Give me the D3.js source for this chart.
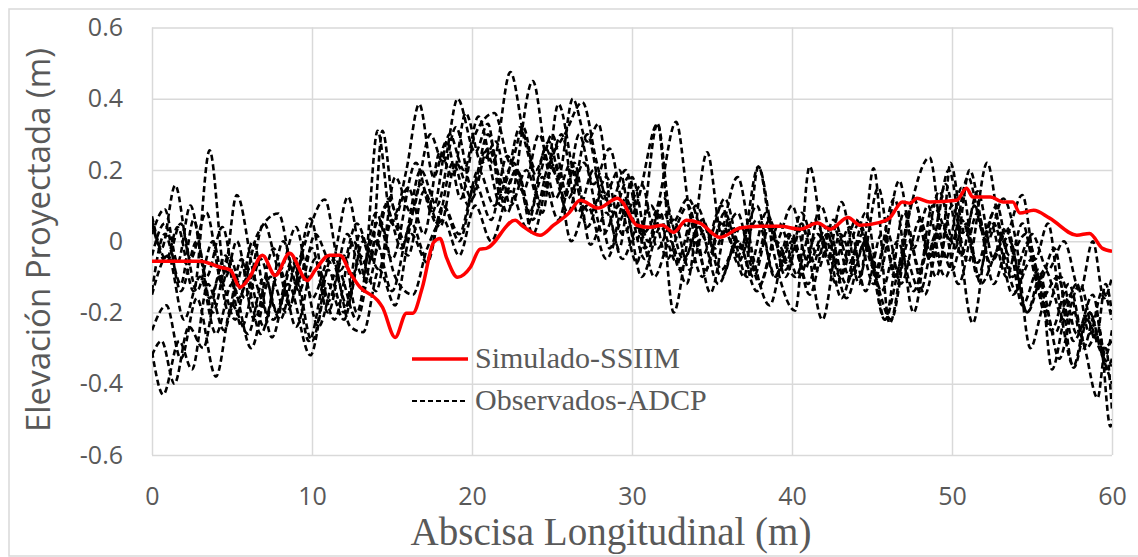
<!DOCTYPE html>
<html>
<head>
<meta charset="utf-8">
<script src="https://cdn.jsdelivr.net/npm/d3@7"></script>
<style>
  html, body { margin: 0; padding: 0; background: #fff; }
  svg { display: block; }
</style>
</head>
<body>
<svg id="chart" width="1138" height="557"></svg>
<script>
// Axis ticks
const xTicks = [0, 10, 20, 30, 40, 50, 60];
const yTicks = [-0.6, -0.4, -0.2, 0, 0.2, 0.4, 0.6];

// Simulated longitudinal water-surface elevation (SSIIM), [abscissa m, elevation m]
const simulado = [
  [0,-0.056],[3.0,-0.056],[4.25,-0.073],[4.9,-0.081],[5.5,-0.129],[6.1,-0.101],[6.9,-0.039],
  [7.7,-0.096],[8.6,-0.034],[9.7,-0.110],[10.2,-0.081],[11.1,-0.039],[11.75,-0.039],[12.4,-0.090],
  [13.0,-0.129],[14.1,-0.166],[14.4,-0.185],[15.2,-0.270],[15.9,-0.202],[16.3,-0.202],[16.9,-0.129],
  [17.6,-0.003],[18.0,0.008],[18.4,-0.045],[19.1,-0.101],[19.9,-0.073],[20.5,-0.022],[20.9,-0.020],
  [22.7,0.059],[23.1,0.045],[24.25,0.017],[25.1,0.045],[26.1,0.081],[26.75,0.115],[27.9,0.093],
  [29.1,0.121],[29.4,0.110],[30.3,0.045],[31.1,0.039],[31.9,0.045],[32.6,0.025],[33.4,0.059],
  [34.25,0.051],[35.5,0.011],[36.75,0.037],[38.0,0.042],[39.25,0.042],[40.5,0.034],[41.6,0.051],
  [42.4,0.034],[43.5,0.067],[44.25,0.045],[45.5,0.053],[46.1,0.065],[46.9,0.110],[47.4,0.107],
  [47.8,0.121],[48.6,0.110],[50.3,0.115],[50.9,0.149],[51.3,0.124],[52.4,0.124],[53.2,0.110],
  [53.8,0.110],[54.25,0.079],[55.1,0.087],[56.1,0.065],[57.8,0.017],[58.6,0.022],[59.4,-0.020],[60,-0.028]
];

// Observed ADCP transects, [abscissa m, elevation m]
const obs1 = [[0,0.07],[0.9,-0.05],[1.6,0.04],[2.6,-0.14],[3.6,0.255],[4.6,-0.1],[5.3,0.0],[6.4,-0.22],[7.6,-0.02],[8.6,-0.18],[9.9,0.064],[11.0,-0.17],[12.0,-0.04],[12.8,-0.2],[14.0,0.08],[15.0,-0.05],[16.5,0.22],[17.5,0.08],[18.6,0.3],[19.5,0.2],[20.4,0.35],[21.3,0.22],[22.4,0.475],[23.3,0.28],[24.1,0.18],[25.0,0.3],[26.0,0.12],[27.0,0.22],[28.2,0.02],[29.2,0.1],[30.3,-0.06],[31.6,0.33],[32.4,0.02],[33.5,0.1],[34.6,-0.08],[35.8,0.08],[37.0,-0.1],[37.9,0.21],[38.8,-0.02],[40.2,-0.195],[41.1,0.21],[42.2,-0.05],[43.1,0.11],[44.2,-0.12],[45.1,0.205],[46.1,-0.23],[47.2,0.05],[48.6,0.235],[49.6,-0.05],[50.6,0.15],[51.6,-0.1],[52.6,0.05],[53.8,-0.15],[55.0,-0.05],[56.2,-0.25],[57.3,-0.12],[58.4,-0.3],[59.2,-0.25],[59.9,-0.52],[60,-0.5]];
const obs2 = [[0,-0.31],[0.7,-0.43],[1.7,-0.28],[2.5,-0.36],[3.5,-0.12],[4.5,-0.25],[5.6,-0.05],[6.8,-0.26],[8.0,-0.08],[9.0,-0.24],[10.2,-0.05],[11.4,-0.22],[12.6,0.0],[13.5,-0.12],[14.6,0.1],[15.6,-0.02],[16.8,0.2],[17.8,0.1],[19.0,0.32],[20.0,0.15],[21.0,0.3],[22.2,0.08],[23.8,0.45],[24.8,0.22],[25.6,0.3],[26.6,0.08],[27.6,0.2],[28.6,-0.02],[29.6,0.12],[30.8,-0.05],[31.8,0.08],[32.6,-0.2],[33.8,0.05],[34.9,-0.145],[36.0,0.05],[37.2,-0.1],[38.4,0.08],[39.6,-0.08],[40.6,0.05],[41.9,-0.22],[43.0,0.02],[44.2,-0.1],[45.4,0.15],[46.4,-0.1],[47.6,0.12],[48.6,-0.05],[49.8,0.2],[51.3,-0.23],[52.4,0.05],[53.4,-0.1],[54.4,0.05],[55.4,-0.12],[56.4,-0.02],[57.6,-0.355],[58.6,-0.2],[59.4,-0.3],[60,-0.28]];
const obs3 = [[0,0.05],[0.6,-0.02],[1.45,0.157],[2.4,-0.05],[3.4,0.08],[4.4,-0.12],[5.3,0.13],[6.4,-0.1],[7.6,-0.22],[8.8,-0.05],[10.0,-0.28],[11.2,-0.05],[12.2,-0.18],[13.2,0.0],[14.2,-0.08],[15.2,0.18],[16.2,0.08],[17.4,0.3],[18.2,0.22],[19.1,0.40],[20.2,0.25],[21.0,0.33],[21.8,0.12],[22.8,0.2],[23.8,0.02],[25.0,0.2],[26.0,0.08],[27.2,0.3],[28.2,0.12],[29.2,0.2],[30.2,0.0],[31.2,0.1],[32.2,-0.05],[33.2,0.05],[34.4,-0.1],[35.6,0.05],[36.6,-0.04],[37.8,0.1],[38.9,-0.1],[40.0,0.02],[41.1,-0.15],[42.2,0.02],[43.4,-0.16],[44.6,0.0],[45.8,-0.22],[47.0,0.08],[48.0,-0.08],[49.2,0.14],[50.2,-0.02],[51.1,0.2],[52.2,0.0],[53.2,0.12],[54.0,0.0],[54.9,-0.3],[55.8,-0.18],[56.7,-0.33],[57.6,-0.2],[58.3,-0.3],[59.1,-0.44],[59.6,-0.3],[60,-0.475]];
const obs4 = [[0,-0.14],[0.8,0.02],[1.8,-0.12],[2.6,0.06],[3.6,-0.16],[4.6,-0.04],[5.6,-0.24],[6.8,-0.05],[7.8,-0.2],[8.8,-0.06],[9.8,-0.28],[11.0,-0.08],[12.0,-0.2],[13.0,0.02],[13.7,-0.05],[14.4,0.31],[15.2,0.08],[15.9,0.2],[16.7,0.385],[17.6,0.18],[18.4,0.28],[19.3,0.12],[20.2,0.3],[21.4,0.36],[22.4,0.22],[23.2,0.32],[24.2,0.12],[25.2,0.22],[26.2,0.0],[27.2,0.1],[28.4,-0.05],[29.6,0.08],[30.6,-0.1],[31.8,0.04],[32.8,-0.06],[34.0,0.1],[35.2,-0.02],[36.6,0.18],[37.6,-0.05],[38.6,-0.18],[39.8,0.02],[40.8,-0.08],[41.8,0.1],[43.0,-0.1],[44.2,0.05],[45.2,-0.1],[46.2,-0.22],[47.3,0.0],[48.3,-0.15],[49.4,0.05],[50.4,-0.12],[51.6,0.08],[52.6,-0.12],[53.6,0.0],[54.7,-0.2],[55.8,-0.08],[57.0,-0.22],[58.0,-0.12],[59.0,-0.28],[59.6,-0.12],[60,-0.2]];
const obs5 = [[0,-0.25],[0.9,-0.18],[1.8,-0.33],[2.8,-0.16],[4.0,-0.38],[5.0,-0.18],[6.0,-0.26],[7.0,-0.1],[8.0,-0.22],[9.2,-0.04],[10.4,-0.24],[11.6,-0.08],[12.8,-0.22],[14.0,0.0],[15.0,-0.14],[16.2,0.05],[17.2,-0.05],[18.2,0.1],[19.2,0.0],[20.4,0.2],[21.4,0.1],[22.6,0.22],[23.6,0.08],[24.6,0.26],[25.4,0.18],[26.3,0.40],[27.2,0.28],[27.9,0.33],[28.8,0.08],[29.8,0.18],[30.8,-0.02],[32.0,0.12],[33.2,-0.05],[34.4,0.06],[35.6,-0.1],[36.8,0.04],[38.0,-0.12],[39.2,0.05],[40.4,-0.1],[41.6,0.02],[42.8,-0.12],[44.0,0.06],[45.2,-0.08],[46.4,0.12],[47.6,-0.2],[48.8,0.1],[50.0,0.0],[51.0,0.18],[52.0,0.02],[52.8,0.1],[53.8,-0.1],[54.8,0.0],[55.8,-0.2],[56.8,-0.1],[57.8,-0.26],[58.8,-0.15],[59.6,-0.32],[60,-0.25]];
const obs6 = [[0,0.02],[0.8,0.09],[1.6,-0.06],[2.4,0.1],[3.4,-0.1],[4.4,0.04],[5.4,-0.16],[6.6,0.02],[7.9,0.078],[9.0,-0.12],[10.0,-0.02],[11.0,-0.2],[12.2,0.02],[13.2,-0.1],[14.1,0.31],[15.0,0.05],[16.0,0.15],[17.0,0.02],[18.0,0.25],[18.8,0.18],[19.6,0.36],[20.6,0.22],[21.5,0.28],[22.4,0.1],[23.4,0.2],[24.4,0.08],[25.4,0.385],[26.4,0.18],[27.4,0.08],[28.4,0.18],[29.4,0.02],[30.4,0.12],[31.6,0.33],[32.5,0.05],[33.5,0.12],[34.7,0.0],[35.8,0.12],[36.8,-0.02],[37.9,0.21],[39.0,0.0],[40.0,0.1],[41.0,-0.06],[42.2,0.04],[43.4,-0.12],[44.4,0.02],[45.4,-0.1],[46.7,0.17],[47.6,-0.02],[48.5,0.1],[49.3,-0.05],[49.9,0.22],[50.8,0.02],[51.6,0.14],[52.6,-0.05],[53.4,0.03],[54.4,-0.18],[55.4,-0.08],[56.4,-0.26],[57.4,-0.15],[58.2,-0.3],[59.0,-0.2],[59.6,-0.36],[60,-0.33]];
const obs7 = [[0,-0.15],[1.0,-0.04],[2.0,-0.22],[3.0,-0.1],[4.0,-0.26],[5.0,-0.12],[6.2,-0.3],[7.4,-0.1],[8.4,-0.2],[9.6,0.0],[10.8,0.117],[11.8,-0.08],[12.8,0.05],[13.8,-0.05],[14.8,0.12],[15.8,0.0],[16.8,0.16],[17.8,0.05],[18.8,0.22],[19.8,0.1],[20.8,0.25],[21.8,0.1],[22.8,0.2],[23.8,0.06],[24.8,0.22],[25.8,0.3],[26.9,0.39],[27.8,0.22],[28.6,0.1],[29.6,0.2],[30.6,0.02],[31.6,0.1],[32.75,0.335],[33.6,0.08],[34.4,-0.04],[35.6,0.1],[36.6,-0.06],[37.8,0.06],[39.0,-0.1],[40.0,0.0],[41.0,-0.12],[42.0,0.02],[43.1,-0.16],[44.2,0.0],[45.1,-0.12],[46.0,0.02],[46.8,-0.12],[48.0,0.06],[49.0,-0.1],[50.0,0.1],[51.0,-0.06],[52.2,0.22],[53.2,0.0],[54.4,0.13],[55.2,-0.05],[56.0,0.05],[56.8,-0.2],[57.6,-0.35],[58.4,-0.22],[59.2,-0.3],[60,-0.4]];
const obs8 = [[0,0.06],[0.9,-0.06],[1.8,0.05],[2.8,-0.14],[3.8,0.0],[4.8,-0.2],[5.8,-0.06],[7.0,-0.24],[8.2,0.0],[9.2,-0.14],[10.2,0.02],[11.2,-0.06],[12.25,0.125],[13.2,-0.06],[14.2,0.06],[15.2,-0.1],[16.3,-0.15],[17.2,-0.02],[18.2,0.06],[19.2,-0.04],[20.2,0.1],[21.2,0.0],[22.4,0.14],[23.4,0.04],[24.4,0.18],[25.4,0.06],[26.4,0.22],[27.4,-0.01],[28.4,0.08],[29.4,-0.05],[30.4,0.04],[31.4,-0.1],[32.4,0.0],[33.4,-0.12],[34.7,0.25],[35.6,0.02],[36.6,0.08],[37.6,-0.08],[38.6,0.06],[39.6,-0.1],[40.6,0.04],[41.6,-0.08],[42.6,0.06],[43.6,-0.06],[44.6,0.08],[45.8,-0.22],[47.0,-0.04],[48.0,-0.14],[49.0,0.02],[50.0,-0.08],[50.9,0.05],[51.8,-0.12],[53.0,-0.02],[54.0,-0.14],[55.0,0.02],[56.0,-0.08],[57.0,0.0],[58.0,-0.14],[58.8,0.0],[59.5,-0.16],[60,-0.1]];
const obs9 = [[0,-0.04],[0.8,0.05],[1.8,-0.14],[2.8,0.0],[3.8,-0.2],[4.8,-0.04],[5.8,-0.16],[7.0,0.05],[8.0,-0.08],[9.0,0.04],[10.0,-0.16],[11.2,-0.04],[12.4,-0.24],[13.2,-0.255],[14.2,-0.08],[15.2,-0.18],[16.2,0.02],[17.2,-0.06],[18.2,0.1],[19.2,0.02],[20.2,0.16],[21.2,0.06],[22.2,0.24],[23.2,0.14],[24.2,0.3],[25.2,0.12],[26.2,0.22],[27.2,0.04],[28.2,0.14],[29.2,-0.02],[30.0,0.18],[31.0,0.0],[32.0,0.08],[33.0,-0.08],[34.2,0.04],[35.4,-0.12],[36.6,0.0],[37.8,-0.14],[39.0,0.0],[40.2,-0.1],[41.4,0.06],[42.6,-0.06],[43.6,0.04],[44.6,-0.14],[45.6,0.02],[46.6,-0.1],[47.6,0.12],[48.6,-0.04],[49.6,0.16],[50.6,-0.04],[51.4,0.1],[52.4,-0.06],[53.4,0.04],[54.7,-0.2],[55.5,-0.1],[56.25,-0.36],[57.0,-0.22],[57.8,-0.12],[58.6,-0.26],[59.4,-0.14],[60,-0.22]];
const obs10 = [[0,-0.32],[0.6,-0.28],[1.4,-0.4],[2.3,-0.24],[3.2,-0.3],[4.2,-0.1],[5.2,-0.22],[6.3,0.0],[7.5,-0.27],[8.5,-0.12],[9.9,-0.32],[11.0,-0.12],[12.0,-0.22],[13.0,-0.04],[14.0,-0.14],[15.0,0.06],[16.0,-0.04],[17.0,0.14],[18.0,0.04],[19.0,0.22],[20.0,0.12],[21.0,0.26],[22.0,0.16],[23.0,0.32],[24.0,0.2],[24.8,0.28],[25.8,0.12],[26.7,0.3],[27.6,0.16],[28.6,0.26],[29.6,0.08],[30.6,0.16],[31.6,-0.02],[32.6,0.06],[33.6,-0.08],[34.6,0.04],[35.6,-0.08],[36.6,0.0],[37.6,-0.1],[38.6,0.04],[39.6,-0.06],[40.6,0.08],[41.6,-0.04],[42.6,0.04],[43.6,-0.1],[44.6,0.0],[45.6,-0.14],[46.6,0.0],[47.6,-0.14],[48.6,0.0],[49.6,-0.1],[50.6,0.06],[51.6,-0.06],[52.6,0.08],[53.6,-0.04],[54.6,0.02],[55.6,-0.16],[56.6,-0.1],[57.6,-0.28],[58.6,-0.2],[59.4,-0.32],[60,-0.35]];
const observados = [obs1, obs2, obs3, obs4, obs5, obs6, obs7, obs8, obs9, obs10];

const svg = d3.select("#chart");
const W = 1138, H = 557;
const m = { left: 152, right: 1112, top: 27.5, bottom: 455 };
const grid = "#d9d9d9", textCol = "#595959";

svg.append("rect").attr("width", W).attr("height", H).attr("fill", "#fff");
// chart frame
svg.append("rect").attr("x", 9).attr("y", 9).attr("width", 1140).attr("height", 547)
  .attr("fill", "none").attr("stroke", grid).attr("stroke-width", 1.5);

const x = d3.scaleLinear().domain([0, 60]).range([m.left, m.right]);
const y = d3.scaleLinear().domain([-0.6, 0.6]).range([m.bottom, m.top]);

// gridlines
const gx = svg.append("g").attr("transform", `translate(0,${m.bottom})`)
  .call(d3.axisBottom(x).tickValues(xTicks).tickSize(-(m.bottom - m.top)).tickFormat(""));
const gy = svg.append("g").attr("transform", `translate(${m.left},0)`)
  .call(d3.axisLeft(y).tickValues(yTicks).tickSize(-(m.right - m.left)).tickFormat(""));
[gx, gy].forEach(g => {
  g.select(".domain").remove();
  g.selectAll(".tick line").attr("stroke", grid).attr("stroke-width", 1.5);
});

// tick labels (hyphen-minus for negatives)
const fmtY = d => d === 0 ? "0" : d3.format(".1f")(d).replace("\u2212", "-");
const xl = svg.append("g").attr("transform", `translate(0,${m.bottom})`)
  .call(d3.axisBottom(x).tickValues(xTicks).tickSize(0).tickPadding(32).tickFormat(d3.format("d")));
const yl = svg.append("g").attr("transform", `translate(${m.left},0)`)
  .call(d3.axisLeft(y).tickValues(yTicks).tickSize(0).tickPadding(29).tickFormat(fmtY));
[xl, yl].forEach(g => {
  g.select(".domain").remove();
  g.selectAll("text").attr("fill", textCol)
    .style("font-family", "'Open Sans', sans-serif").style("font-size", "25px");
});

// plot series
svg.append("clipPath").attr("id", "plotClip")
  .append("rect").attr("x", m.left).attr("y", m.top)
  .attr("width", m.right - m.left).attr("height", m.bottom - m.top);

const line = d3.line().x(d => x(d[0])).y(d => y(d[1])).curve(d3.curveMonotoneX);
const plot = svg.append("g").attr("clip-path", "url(#plotClip)");

plot.selectAll("path.obs").data(observados).join("path")
  .attr("class", "obs").attr("d", line)
  .attr("fill", "none").attr("stroke", "#000").attr("stroke-width", 2.6)
  .attr("stroke-dasharray", "6,3.5");

plot.append("path").datum(simulado).attr("d", line)
  .attr("fill", "none").attr("stroke", "#ff0000").attr("stroke-width", 3.5)
  .attr("stroke-linejoin", "round");

// legend
const lg = svg.append("g");
lg.append("line").attr("x1", 412).attr("x2", 468).attr("y1", 359).attr("y2", 359)
  .attr("stroke", "#ff0000").attr("stroke-width", 3.5);
lg.append("line").attr("x1", 412).attr("x2", 468).attr("y1", 401).attr("y2", 401)
  .attr("stroke", "#000").attr("stroke-width", 2.2).attr("stroke-dasharray", "5,3");
lg.selectAll("text").data(["Simulado-SSIIM", "Observados-ADCP"]).join("text")
  .attr("x", 475).attr("y", (d, i) => 368 + i * 42)
  .attr("fill", textCol)
  .style("font-family", "'Liberation Serif', 'Times New Roman', serif").style("font-size", "30px")
  .text(d => d);

// axis titles
svg.append("text").attr("x", (m.left + m.right) / 2 - 21).attr("y", 545)
  .attr("text-anchor", "middle").attr("fill", textCol)
  .style("font-family", "'Liberation Serif', 'Times New Roman', serif").style("font-size", "39px")
  .text("Abscisa Longitudinal (m)");
svg.append("text").attr("transform", "translate(50,240) rotate(-90)")
  .attr("text-anchor", "middle").attr("fill", textCol)
  .style("font-family", "'Open Sans', sans-serif").style("font-size", "33px")
  .text("Elevación Proyectada (m)");
</script>
</body>
</html>
